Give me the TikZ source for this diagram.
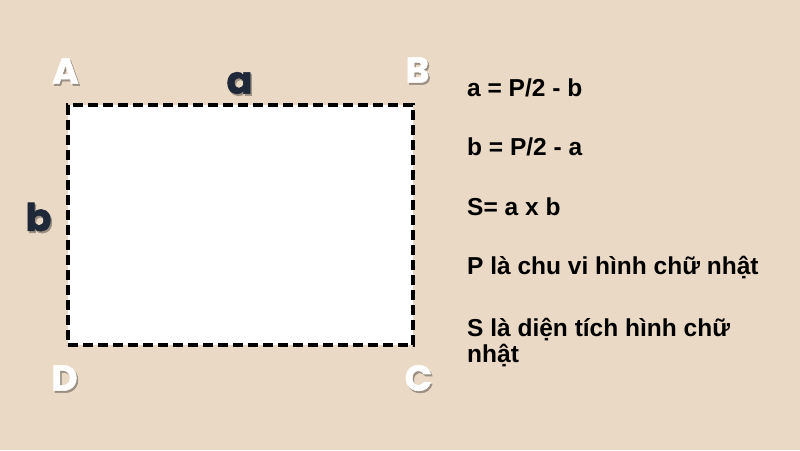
\documentclass[tikz,border=0pt]{standalone}
\usepackage{fontspec}
\setmainfont{Liberation Sans}
\newfontfamily\labfont{Poppins}[BoldFont={* Bold},BoldFeatures={FakeBold=1.5}]
\definecolor{bg}{HTML}{E9D9C5}
\definecolor{navy}{HTML}{1E2838}
\definecolor{shadowc}{HTML}{9A8F82}
\begin{document}
\begin{tikzpicture}[x=1pt,y=1pt,
  vert/.style={font=\labfont\bfseries\fontsize{36}{36}\selectfont, text=white, inner sep=0pt},
  vertsh/.style={font=\labfont\bfseries\fontsize{36}{36}\selectfont, text=shadowc, inner sep=0pt},
  side/.style={font=\labfont\bfseries\fontsize{38}{38}\selectfont, text=navy, inner sep=0pt},
  sidesh/.style={font=\labfont\bfseries\fontsize{38}{38}\selectfont, text=shadowc, inner sep=0pt},
  info/.style={font=\bfseries\fontsize{24.5}{25.5}\selectfont, anchor=base west, inner sep=0pt, text=black, align=left}]
\fill[bg] (0,0) rectangle (800,450);
\useasboundingbox (0,0) rectangle (800,450);
\node[fill=white, draw=black, line width=4pt, dash pattern=on 10pt off 5pt, minimum width=345pt, minimum height=240pt, inner sep=0pt] (rect) at (240.5,225) {};
% vertex labels with shadows
\node[vertsh] at (67,377) {A}; \node[vert] (A) at (65.5,379) {A};
\node[vertsh] at (419,378) {B}; \node[vert] (B) at (417.5,380) {B};
\node[vertsh] at (420,70) {C}; \node[vert] (C) at (418.5,72) {C};
\node[vertsh] at (66,70) {D}; \node[vert] (D) at (64.5,72) {D};
\node[sidesh] at (241,365) {a}; \node[side] (a) at (239.5,367) {a};
\node[sidesh] at (40,231) {b}; \node[side] (b) at (38.5,233) {b};
% formulas
\node[info] (f1) at (467,353) {a = P/2 - b};
\node[info] (f2) at (467,294) {b = P/2 - a};
\node[info] (f3) at (467,234) {S= a x b};
\node[info] (f4) at (467,175) {P là chu vi hình chữ nhật};
\node[info] (f5) at (467,88) {S là diện tích hình chữ\\nhật};
\end{tikzpicture}
\end{document}
